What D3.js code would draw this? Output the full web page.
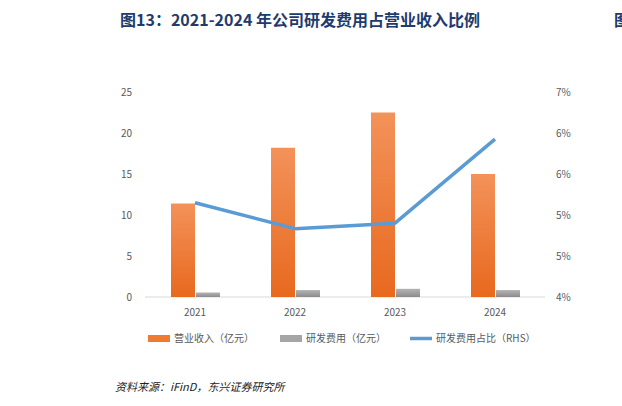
<!DOCTYPE html><html><head><meta charset="utf-8"><script src="https://cdn.jsdelivr.net/npm/d3@7"></script>
<style>body{margin:0;background:#fff}</style></head><body><svg id="c" width="622" height="406"></svg>
<script>
const years=["2021","2022","2023","2024"];
const revenue=[11.4,18.2,22.5,15.0];
const rd=[0.55,0.85,1.0,0.85];
const ratio=[5.38,5.0,5.08,6.31];
const leftTicks=[0,5,10,15,20,25];
const rightTicks=[4,4.6,5.2,5.8,6.4,7];
const svg=d3.select("#c");
const f="'Noto Sans CJK SC','Noto Sans',sans-serif";
const x=d3.scaleBand().domain(years).range([145,545]);
const y=d3.scaleLinear().domain([0,25]).range([297,92]);
const y2=d3.scaleLinear().domain([4,7]).range([297,92]);
const defs=svg.append("defs");
const g1=defs.append("linearGradient").attr("id","go").attr("x1",0).attr("y1",0).attr("x2",0).attr("y2",1);
g1.append("stop").attr("offset","0").attr("stop-color","#f3925a");g1.append("stop").attr("offset","1").attr("stop-color","#e8691e");
const g2=defs.append("linearGradient").attr("id","gg").attr("x1",0).attr("y1",0).attr("x2",0).attr("y2",1);
g2.append("stop").attr("offset","0").attr("stop-color","#b4b4b4");g2.append("stop").attr("offset","1").attr("stop-color","#8c8c8c");
svg.append("text").attr("x",300).attr("y",26).attr("text-anchor","middle").attr("font-family",f).attr("font-weight","bold").attr("font-size",16).attr("fill","#1f3b6e").text("图13：2021-2024 年公司研发费用占营业收入比例");
svg.append("text").attr("x",614).attr("y",26).attr("font-family",f).attr("font-weight","bold").attr("font-size",16).attr("fill","#1f3b6e").text("图");
svg.append("line").attr("x1",145).attr("x2",545).attr("y1",297).attr("y2",297).attr("stroke","#d9d9d9");
svg.append("g").selectAll("text").data(leftTicks).join("text").attr("x",132).attr("y",d=>y(d)+4).attr("text-anchor","end").attr("font-family",f).attr("font-size",10).attr("fill","#595959").text(d=>d);
svg.append("g").selectAll("text").data(rightTicks).join("text").attr("x",556).attr("y",d=>y2(d)+4).attr("font-family",f).attr("font-size",10).attr("fill","#595959").text(d=>Math.round(d)+"%");
svg.append("g").selectAll("text").data(years).join("text").attr("x",d=>x(d)+x.bandwidth()/2).attr("y",316).attr("text-anchor","middle").attr("font-family",f).attr("font-size",10).attr("fill","#595959").text(d=>d);
const bw=24;
svg.append("g").selectAll("rect").data(revenue).join("rect").attr("x",(d,i)=>x(years[i])+x.bandwidth()/2-bw).attr("width",bw).attr("y",d=>y(d)).attr("height",d=>297-y(d)).attr("fill","url(#go)");
svg.append("g").selectAll("rect").data(rd).join("rect").attr("x",(d,i)=>x(years[i])+x.bandwidth()/2+1).attr("width",bw).attr("y",d=>y(d)).attr("height",d=>297-y(d)).attr("fill","url(#gg)");
svg.append("path").datum(ratio).attr("fill","none").attr("stroke","#5b9bd5").attr("stroke-width",3.5).attr("stroke-linejoin","round")
 .attr("d",d3.line().x((d,i)=>x(years[i])+x.bandwidth()/2).y(d=>y2(d)));
const lg=svg.append("g").attr("font-family",f).attr("font-size",10).attr("fill","#595959");
lg.append("rect").attr("x",148).attr("y",335).attr("width",22).attr("height",7).attr("fill","#ee7b30");
lg.append("text").attr("x",174).attr("y",342).text("营业收入（亿元）");
lg.append("rect").attr("x",280).attr("y",335).attr("width",22).attr("height",7).attr("fill","#a5a5a5");
lg.append("text").attr("x",306).attr("y",342).text("研发费用（亿元）");
lg.append("line").attr("x1",410).attr("x2",432).attr("y1",338.5).attr("y2",338.5).attr("stroke","#5b9bd5").attr("stroke-width",3.5);
lg.append("text").attr("x",436).attr("y",342).text("研发费用占比（RHS）");
svg.append("text").attr("x",115).attr("y",391).attr("font-family",f).attr("font-size",11).attr("font-style","italic").attr("fill","#222").text("资料来源：iFinD，东兴证券研究所");
</script></body></html>
